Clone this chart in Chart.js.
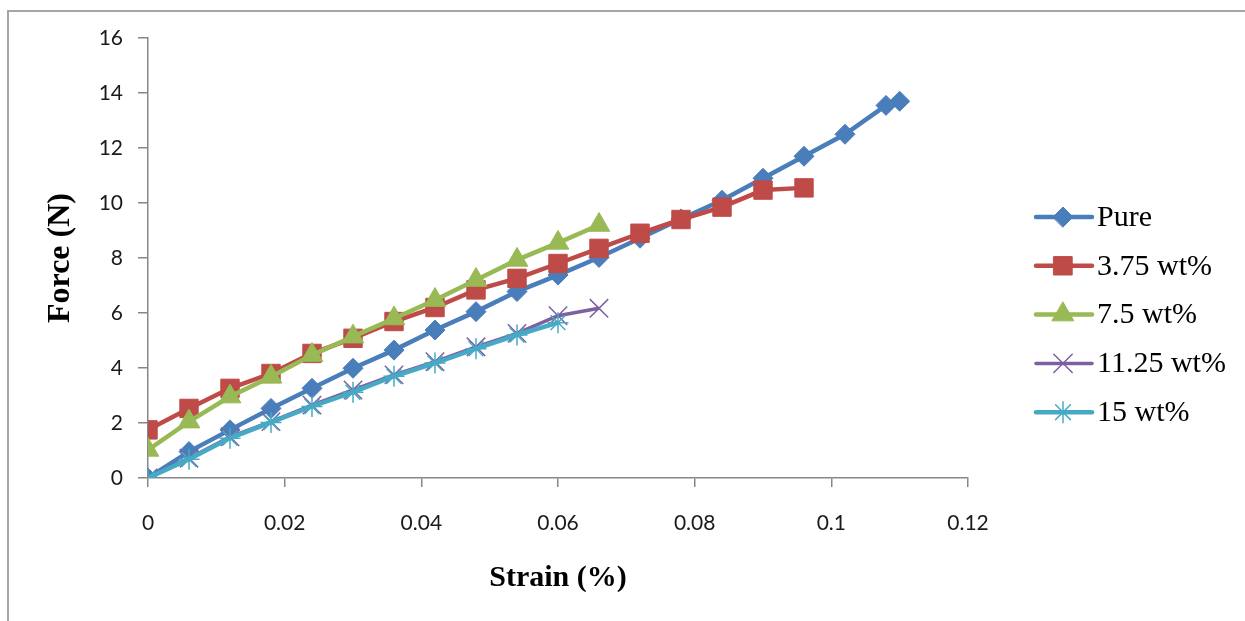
<!DOCTYPE html>
<html>
<head>
<meta charset="utf-8">
<script src="https://cdn.jsdelivr.net/npm/chart.js@4/dist/chart.umd.min.js"></script>
<style>
  body { margin: 0; background: #fff; }
  #wrap { width: 1245px; height: 621px; }
</style>
</head>
<body>
<div id="wrap"><canvas id="chart"></canvas></div>
<script>
// strain values (%) for each series
const strainPure = [0, 0.006, 0.012, 0.018, 0.024, 0.03, 0.036, 0.042, 0.048, 0.054, 0.06, 0.066, 0.072, 0.078, 0.084, 0.09, 0.096, 0.102, 0.108, 0.11];
const strain375 = [0, 0.006, 0.012, 0.018, 0.024, 0.03, 0.036, 0.042, 0.048, 0.054, 0.06, 0.066, 0.072, 0.078, 0.084, 0.09, 0.096];
const strain75 = [0, 0.006, 0.012, 0.018, 0.024, 0.03, 0.036, 0.042, 0.048, 0.054, 0.06, 0.066];
const strain1125 = [0, 0.006, 0.012, 0.018, 0.024, 0.03, 0.036, 0.042, 0.048, 0.054, 0.06, 0.066];
const strain15 = [0, 0.006, 0.012, 0.018, 0.024, 0.03, 0.036, 0.042, 0.048, 0.054, 0.06];

// force (N)
const forcePure = [0, 0.96, 1.75, 2.53, 3.26, 3.99, 4.65, 5.38, 6.05, 6.78, 7.38, 8.02, 8.72, 9.42, 10.1, 10.9, 11.7, 12.5, 13.55, 13.7];
const force375 = [1.75, 2.53, 3.26, 3.8, 4.53, 5.08, 5.69, 6.2, 6.84, 7.26, 7.8, 8.35, 8.9, 9.4, 9.85, 10.47, 10.55];
const force75 = [1.02, 2.05, 2.96, 3.68, 4.47, 5.14, 5.8, 6.47, 7.2, 7.93, 8.55, 9.2];
const force1125 = [0, 0.72, 1.5, 2.05, 2.65, 3.2, 3.75, 4.23, 4.77, 5.26, 5.9, 6.17];
const force15 = [0, 0.68, 1.45, 2.02, 2.6, 3.12, 3.7, 4.18, 4.7, 5.2, 5.65];

const seriesNames = ["Pure", "3.75 wt%", "7.5 wt%", "11.25 wt%", "15 wt%"];

const xTickValues = [0, 0.02, 0.04, 0.06, 0.08, 0.1, 0.12];
const xTickLabels = ["0", "0.02", "0.04", "0.06", "0.08", "0.1", "0.12"];
const yTickValues = [0, 2, 4, 6, 8, 10, 12, 14, 16];
const yTickLabels = ["0", "2", "4", "6", "8", "10", "12", "14", "16"];

function pts(xs, ys) {
  return xs.map((x, i) => ({x: x, y: ys[i]}));
}

const styles = [
  {color: "#4a7ebb", point: "rectRot", r: 10, pw: 1, lw: 4.5},
  {color: "#be4b48", point: "rect", r: 13, pw: 1, lw: 4.5},
  {color: "#98b954", point: "triangle", r: 12.5, pw: 1, lw: 4.5},
  {color: "#7d60a0", point: "crossRot", r: 13, pw: 1.5, lw: 3.5},
  {color: "#46aac5", point: "star", r: 10.5, pw: 1.5, lw: 4.5}
];

const seriesData = [
  pts(strainPure, forcePure),
  pts(strain375, force375),
  pts(strain75, force75),
  pts(strain1125, force1125),
  pts(strain15, force15)
];

const datasets = seriesNames.map((name, i) => ({
  label: name,
  data: seriesData[i],
  showLine: true,
  borderColor: styles[i].color,
  backgroundColor: styles[i].color,
  borderWidth: styles[i].lw,
  pointStyle: styles[i].point,
  pointRadius: styles[i].r,
  pointHoverRadius: styles[i].r,
  pointBorderWidth: styles[i].pw,
  pointBorderColor: styles[i].color,
  pointBackgroundColor: styles[i].color,
  tension: 0,
  order: 5 - i
}));

const framePlugin = {
  id: "frame",
  beforeDraw(chart) {
    const ctx = chart.ctx;
    ctx.save();
    ctx.fillStyle = "#fff";
    ctx.fillRect(0, 0, chart.width, chart.height);
    ctx.strokeStyle = "#a6a6a6";
    ctx.lineWidth = 2;
    ctx.beginPath();
    ctx.moveTo(8, chart.height);
    ctx.lineTo(8, 11);
    ctx.lineTo(chart.width, 11);
    ctx.stroke();
    ctx.restore();
  }
};

const legendPlugin = {
  id: "sideLegend",
  afterDraw(chart) {
    const ctx = chart.ctx;
    ctx.save();
    seriesNames.forEach((name, i) => {
      const st = styles[i];
      const y = 217 + i * 48.8;
      ctx.strokeStyle = st.color;
      ctx.lineWidth = st.lw;
      ctx.lineCap = "round";
      ctx.beginPath();
      ctx.moveTo(1036, y);
      ctx.lineTo(1092, y);
      ctx.stroke();
      ctx.fillStyle = st.color;
      ctx.strokeStyle = st.color;
      ctx.lineWidth = st.pw;
      if (Chart.helpers && Chart.helpers.drawPoint) {
        Chart.helpers.drawPoint(ctx, {pointStyle: st.point, radius: st.r, borderWidth: st.pw, rotation: 0}, 1063, y);
      }
      ctx.fillStyle = "#000";
      ctx.font = "30px 'Liberation Serif'";
      ctx.textAlign = "left";
      ctx.textBaseline = "middle";
      ctx.fillText(name, 1097, y + 1);
    });
    ctx.restore();
  }
};

new Chart(document.getElementById("chart"), {
  type: "scatter",
  data: { datasets: datasets },
  options: {
    responsive: true,
    maintainAspectRatio: false,
    animation: false,
    layout: { padding: { left: 0, top: 38, right: 277, bottom: 0 } },
    plugins: {
      legend: { display: false },
      tooltip: { enabled: false }
    },
    scales: {
      x: {
        type: "linear",
        min: 0,
        max: 0.12,
        afterBuildTicks: (s) => { s.ticks = xTickValues.map(v => ({value: v})); },
        afterFit: (s) => { s.height = 143; },
        ticks: {
          callback: (v, i) => xTickLabels[i],
          font: { family: "Lato", size: 21 },
          color: "#1a1a1a",
          padding: 24,
          maxRotation: 0
        },
        grid: { drawOnChartArea: false, drawTicks: true, tickLength: 9, color: "#878787", lineWidth: 1.5 },
        border: { display: true, color: "#878787", width: 1.5 },
        title: {
          display: true,
          text: "Strain (%)",
          color: "#000",
          font: { family: "Liberation Serif", size: 30, weight: "bold" },
          padding: { top: 0, bottom: 25 }
        }
      },
      y: {
        type: "linear",
        min: 0,
        max: 16,
        afterBuildTicks: (s) => { s.ticks = yTickValues.map(v => ({value: v})); },
        afterFit: (s) => { s.width = 148; },
        ticks: {
          callback: (v, i) => yTickLabels[i],
          font: { family: "Lato", size: 21 },
          color: "#1a1a1a",
          padding: 15
        },
        grid: { drawOnChartArea: false, drawTicks: true, tickLength: 10, color: "#878787", lineWidth: 1.5 },
        border: { display: true, color: "#878787", width: 1.5 },
        title: {
          display: true,
          text: "Force (N)",
          color: "#000",
          font: { family: "Liberation Serif", size: 32, weight: "bold" },
          padding: { top: 42, bottom: 0 }
        }
      }
    }
  },
  plugins: [framePlugin, legendPlugin]
});
</script>
</body>
</html>
